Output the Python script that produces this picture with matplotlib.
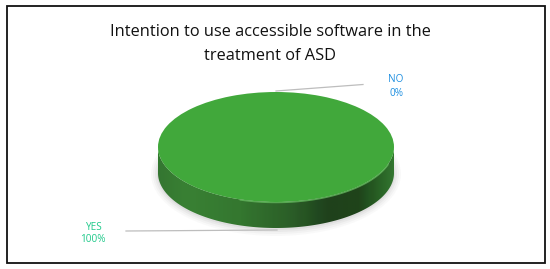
import numpy as np
import matplotlib
matplotlib.use('Agg')
import matplotlib.pyplot as plt
from matplotlib.colors import LinearSegmentedColormap
from matplotlib.patches import Ellipse, PathPatch, Rectangle
from matplotlib.path import Path

# data
categories = ['YES', 'NO']
values = [100, 0]
title_lines = ['Intention to use accessible software in the', 'treatment of ASD']

W, H = 550, 269
cx, cy, rx, ry, depth = 276, 147, 118, 55, 26
face_color = '#41a83b'

plt.rcParams['font.family'] = ['Open Sans', 'DejaVu Sans']

fig = plt.figure(figsize=(W / 100, H / 100), dpi=100, facecolor='white')

# whole figure axes, in pixels
ax = fig.add_axes([0, 0, 1, 1], zorder=0)
ax.set_xlim(0, W)
ax.set_ylim(H, 0)
ax.axis('off')

ax.add_patch(Rectangle((6.5, 6), 538, 257, fill=False, ec='#111111', lw=1.3))

# soft shadow under the disc
for grow, alpha in zip([7, 5, 3, 1], [0.03, 0.04, 0.05, 0.07]):
    ax.add_patch(Ellipse((cx, cy + depth + 1), 2 * (rx + grow), 2 * (ry + grow),
                         fc='#555555', ec='none', alpha=alpha))

# side of the disc, gradient clipped to the outline
t = np.linspace(0, np.pi, 200)
top_x = cx + rx * np.cos(t)
top_y = cy + ry * np.sin(t)
outline = np.r_[np.c_[top_x, top_y + depth], np.c_[top_x[::-1], top_y[::-1]]]
side_path = Path(np.r_[outline, outline[:1]], closed=True)
side_patch = PathPatch(side_path, transform=ax.transData, fc='none', ec='none')
ax.add_patch(side_patch)

side_cmap = LinearSegmentedColormap.from_list('side', [
    (0.0, '#2f7f2b'), (0.12, '#348c2f'), (0.35, '#2f8029'), (0.58, '#235f1f'),
    (0.72, '#143f11'), (0.85, '#14420f'), (0.95, '#236a1f'), (1.0, '#2f7f2a')])
grad = ax.imshow(np.linspace(0, 1, 256)[None, :], cmap=side_cmap, aspect='auto',
                 extent=(cx - rx, cx + rx, cy + ry + depth, cy - ry))
grad.set_clip_path(side_patch)
ax.set_xlim(0, W)
ax.set_ylim(H, 0)

# leader lines
ax.plot([276, 363], [91, 84.5], color='#bdbdbd', lw=0.9)
ax.plot([126, 277], [231, 230], color='#bdbdbd', lw=0.9)

# top face of the disc, squashed pie
pie_ax = fig.add_axes([(cx - rx) / W, 1 - (cy + ry) / H, 2 * rx / W, 2 * ry / H], zorder=1)
pie_ax.pie(values, colors=[face_color, '#1e8fe0'], radius=1, startangle=90,
           counterclock=False, wedgeprops={'linewidth': 0})
pie_ax.set_aspect('auto')
pie_ax.set_xlim(-1, 1)
pie_ax.set_ylim(-1, 1)
pie_ax.axis('off')

# rim and text on top of everything
overlay = fig.add_axes([0, 0, 1, 1], zorder=2)
overlay.set_xlim(0, W)
overlay.set_ylim(H, 0)
overlay.axis('off')

# light rim along the front edge of the top face
overlay.plot(top_x[20:120], top_y[20:120] + 0.6, color='#62b85c', lw=0.9, alpha=0.8)

overlay.text(270.5, 32, title_lines[0], ha='center', va='center', fontsize=11.8, color='#111111')
overlay.text(270.5, 56.5, title_lines[1], ha='center', va='center', fontsize=11.8, color='#111111')

overlay.text(396, 80, categories[1], ha='center', va='center', fontsize=7.2, color='#1e8fe0')
overlay.text(396, 93, f'{values[1]}%', ha='center', va='center', fontsize=7.2, color='#1e8fe0')
overlay.text(93, 227, categories[0], ha='center', va='center', fontsize=7.2, color='#1fc98a')
overlay.text(93, 240, f'{values[0]}%', ha='center', va='center', fontsize=7.2, color='#1fc98a')

fig.savefig('out.png', dpi=100)
